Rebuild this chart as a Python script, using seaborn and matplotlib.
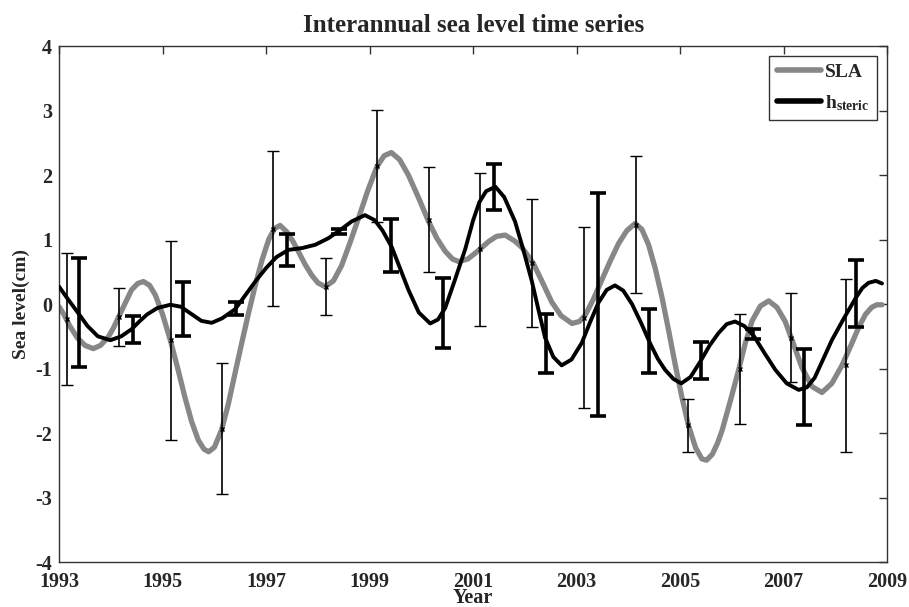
import matplotlib
matplotlib.use("Agg")
import matplotlib.pyplot as plt
import seaborn as sns

# ── Data ────────────────────────────────────────────────────────────────────
sla_years = [1993.00, 1993.10, 1993.20, 1993.35, 1993.50, 1993.66, 1993.80, 1993.95,
             1994.05, 1994.15, 1994.28, 1994.40, 1994.52, 1994.63, 1994.75, 1994.86,
             1995.00, 1995.15, 1995.30, 1995.43, 1995.56, 1995.69, 1995.80, 1995.89,
             1996.00, 1996.14, 1996.27, 1996.40, 1996.53, 1996.66, 1996.79, 1996.92,
             1997.05, 1997.16, 1997.27, 1997.40, 1997.52, 1997.62, 1997.75, 1997.88,
             1998.00, 1998.14, 1998.30, 1998.46, 1998.62, 1998.78, 1998.96, 1999.14,
             1999.28, 1999.42, 1999.58, 1999.75, 1999.95, 2000.14, 2000.30, 2000.46,
             2000.60, 2000.72, 2000.90, 2001.10, 2001.30, 2001.45, 2001.62, 2001.80,
             2001.94, 2002.06, 2002.17, 2002.35, 2002.52, 2002.70, 2002.91, 2003.05,
             2003.16, 2003.32, 2003.49, 2003.65, 2003.81, 2003.97, 2004.13, 2004.26,
             2004.39, 2004.52, 2004.65, 2004.78, 2004.90, 2005.03, 2005.16, 2005.30,
             2005.42, 2005.51, 2005.62, 2005.72, 2005.81, 2005.97, 2006.13, 2006.26,
             2006.39, 2006.55, 2006.71, 2006.87, 2007.03, 2007.19, 2007.35, 2007.55,
             2007.74, 2007.93, 2008.12, 2008.30, 2008.45, 2008.58, 2008.70, 2008.80,
             2008.90]
sla_vals = [-0.04, -0.17, -0.33, -0.52, -0.64, -0.69, -0.64, -0.51,
            -0.37, -0.20, 0.02, 0.22, 0.32, 0.35, 0.29, 0.14,
            -0.16, -0.56, -1.02, -1.44, -1.82, -2.11, -2.25, -2.29,
            -2.22, -1.95, -1.55, -1.07, -0.60, -0.14, 0.29, 0.68,
            1.00, 1.17, 1.22, 1.12, 0.97, 0.82, 0.62, 0.45,
            0.33, 0.27, 0.36, 0.60, 0.95, 1.32, 1.75, 2.13,
            2.30, 2.35, 2.24, 2.00, 1.64, 1.28, 1.02, 0.82,
            0.70, 0.66, 0.70, 0.83, 0.97, 1.05, 1.07, 0.98,
            0.88, 0.75, 0.62, 0.32, 0.03, -0.18, -0.30, -0.27,
            -0.18, 0.07, 0.38, 0.67, 0.94, 1.14, 1.25, 1.16,
            0.92, 0.55, 0.10, -0.42, -0.92, -1.43, -1.88, -2.23,
            -2.40, -2.42, -2.33, -2.16, -1.96, -1.50, -1.02, -0.60,
            -0.26, -0.03, 0.05, -0.05, -0.27, -0.62, -0.98, -1.28,
            -1.37, -1.23, -0.96, -0.64, -0.36, -0.16, -0.05, -0.01,
            -0.01]

steric_years = [1993.00, 1993.15, 1993.37, 1993.55, 1993.75, 1993.99, 1994.20, 1994.40,
                1994.55, 1994.70, 1994.90, 1995.15, 1995.35, 1995.55, 1995.75, 1995.95,
                1996.15, 1996.40, 1996.60, 1996.80, 1997.00, 1997.20, 1997.43, 1997.70,
                1997.95, 1998.20, 1998.40, 1998.65, 1998.91, 1999.10, 1999.25, 1999.43,
                1999.60, 1999.75, 1999.95, 2000.17, 2000.32, 2000.46, 2000.65, 2000.85,
                2001.00, 2001.12, 2001.25, 2001.43, 2001.60, 2001.81, 2001.97, 2002.13,
                2002.26, 2002.39, 2002.55, 2002.71, 2002.90, 2003.10, 2003.26, 2003.42,
                2003.58, 2003.74, 2003.90, 2004.07, 2004.25, 2004.42, 2004.57, 2004.71,
                2004.87, 2005.02, 2005.20, 2005.39, 2005.57, 2005.74, 2005.90, 2006.06,
                2006.24, 2006.42, 2006.63, 2006.84, 2007.06, 2007.29, 2007.45, 2007.60,
                2007.76, 2007.93, 2008.15, 2008.38, 2008.52, 2008.64, 2008.78, 2008.90]
steric_vals = [0.27, 0.10, -0.14, -0.34, -0.50, -0.56, -0.50, -0.39,
               -0.27, -0.16, -0.06, -0.01, -0.04, -0.15, -0.26, -0.29,
               -0.22, -0.08, 0.14, 0.36, 0.56, 0.73, 0.84, 0.87,
               0.92, 1.02, 1.13, 1.28, 1.38, 1.30, 1.14, 0.88,
               0.53, 0.22, -0.13, -0.30, -0.24, -0.06, 0.38, 0.86,
               1.30, 1.58, 1.75, 1.82, 1.66, 1.28, 0.84, 0.37,
               -0.08, -0.52, -0.82, -0.95, -0.86, -0.60, -0.28, 0.02,
               0.22, 0.29, 0.21, 0.00, -0.30, -0.61, -0.85, -1.02,
               -1.16, -1.23, -1.13, -0.89, -0.64, -0.45, -0.31, -0.27,
               -0.34, -0.49, -0.76, -1.02, -1.23, -1.33, -1.29, -1.14,
               -0.86, -0.56, -0.24, 0.08, 0.25, 0.33, 0.36, 0.32]

sla_bar_years = [1993.15, 1994.16, 1995.16, 1996.15, 1997.13, 1998.16, 1999.15, 2000.15,
                 2001.14, 2002.14, 2003.15, 2004.15, 2005.15, 2006.16, 2007.15, 2008.20]
sla_bar_mean = [-0.23, -0.20, -0.56, -1.93, 1.17, 0.27, 2.14, 1.31,
                0.85, 0.64, -0.21, 1.23, -1.88, -1.01, -0.52, -0.95]
sla_bar_err = [1.03, 0.45, 1.54, 1.01, 1.20, 0.44, 0.87, 0.81,
               1.19, 0.99, 1.40, 1.06, 0.41, 0.85, 0.69, 1.34]

steric_bar_years = [1993.39, 1994.43, 1995.40, 1996.42, 1997.41, 1998.41, 1999.41, 2000.42,
                    2001.41, 2002.41, 2003.42, 2004.40, 2005.41, 2006.41, 2007.40, 2008.40]
steric_bar_mean = [-0.13, -0.39, -0.08, -0.07, 0.84, 1.13, 0.91, -0.14,
                   1.82, -0.61, -0.01, -0.57, -0.87, -0.46, -1.29, 0.17]
steric_bar_err = [0.84, 0.21, 0.42, 0.10, 0.25, 0.04, 0.41, 0.54,
                  0.36, 0.46, 1.73, 0.50, 0.29, 0.08, 0.59, 0.52]

xticks = [1993, 1995, 1997, 1999, 2001, 2003, 2005, 2007, 2009]
yticks = [-4, -3, -2, -1, 0, 1, 2, 3, 4]

# ── Styling ─────────────────────────────────────────────────────────────────
sns.set_style("white")
plt.rcParams.update({
    "font.family": ["Liberation Serif", "DejaVu Serif"],
    "font.weight": "bold",
    "axes.unicode_minus": False,
    "mathtext.fontset": "custom",
    "mathtext.rm": "Liberation Serif:bold",
    "mathtext.bf": "Liberation Serif:bold",
    "mathtext.it": "Liberation Serif:bold",
})

GRAY = "#878787"
BLACK = "#000000"

fig = plt.figure(figsize=(9.09, 6.07), dpi=100)
ax = fig.add_axes([0.065, 0.074, 0.911, 0.850])

sns.lineplot(x=sla_years, y=sla_vals, ax=ax, color=GRAY, linewidth=3.8,
             label="SLA", zorder=2)
sns.lineplot(x=steric_years, y=steric_vals, ax=ax, color=BLACK, linewidth=2.8,
             label=r"h$_{\mathbf{steric}}$", zorder=3)

ax.errorbar(sla_bar_years, sla_bar_mean, yerr=sla_bar_err, fmt="x", color=BLACK,
            markersize=3, markeredgewidth=1.0, elinewidth=1.2, capsize=4.5,
            capthick=1.2, zorder=4)
ax.errorbar(steric_bar_years, steric_bar_mean, yerr=steric_bar_err, fmt="none",
            color=BLACK, elinewidth=2.6, capsize=6, capthick=2.6, zorder=5)

ax.set_xlim(1993, 2009)
ax.set_ylim(-4, 4)
ax.set_xticks(xticks)
ax.set_yticks(yticks)
ax.tick_params(direction="in", length=6, width=1, top=True, right=True,
               labelsize=14.5, color="#333333")
ax.tick_params(axis="x", pad=7)
ax.tick_params(axis="y", pad=5)
for lab in ax.get_xticklabels() + ax.get_yticklabels():
    lab.set_fontweight("bold")
for side in ax.spines.values():
    side.set_color("#333333")
    side.set_linewidth(1.0)

ax.set_xlabel("Year", fontsize=14.5, fontweight="bold")
ax.xaxis.set_label_coords(0.5, -0.05)
ax.set_ylabel("Sea level(cm)", fontsize=14, fontweight="bold", labelpad=4)
ax.set_title("Interannual sea level time series", fontsize=18, fontweight="bold", pad=10)

leg = ax.legend(loc="upper right", fontsize=14, handlelength=2.3, handletextpad=0.2,
                borderpad=0.4, labelspacing=0.6, fancybox=False, framealpha=1,
                borderaxespad=0.5)
leg.get_frame().set_edgecolor("#333333")
leg.get_frame().set_linewidth(1.0)
for line in leg.get_lines():
    line.set_linewidth(4)

fig.savefig("out.png", dpi=100)
